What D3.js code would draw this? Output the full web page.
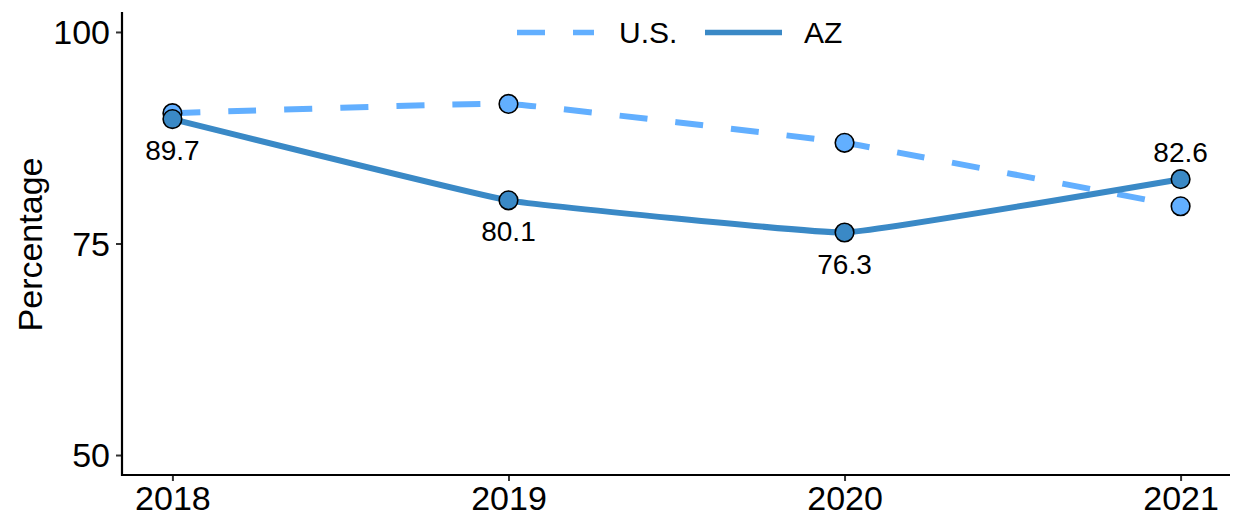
<!DOCTYPE html>
<html>
<head>
<meta charset="utf-8">
<script src="https://cdn.jsdelivr.net/npm/d3@7"></script>
<style>
  html, body { margin: 0; padding: 0; background: #fff; }
  svg { display: block; font-family: "Liberation Sans", Arial, sans-serif; }
</style>
</head>
<body>
<svg id="chart" width="1236" height="517"></svg>
<script>
// ---- data ----
const years = [2018, 2019, 2020, 2021];
const usValues = [90.4, 91.5, 86.9, 79.4];
const azValues = [89.7, 80.1, 76.3, 82.6];
const seriesNames = ["U.S.", "AZ"];
const yTicks = [50, 75, 100];
const yTitle = "Percentage";

(function () {
const colors = { "U.S.": "#62AFFF", "AZ": "#3A89C6" };

const svg = d3.select("#chart");
const mLeft = 122, mRight = 1230, mTop = 12, mBottom = 475;

const x = d3.scaleLinear().domain([2017.85, 2021.147]).range([mLeft, mRight]);
const y = d3.scaleLinear().domain([47.64, 102.36]).range([mBottom, mTop]);

// axes
const yAxis = d3.axisLeft(y).tickValues(yTicks).tickSize(6).tickPadding(6).tickFormat(d3.format("d"));
const xAxis = d3.axisBottom(x).tickValues(years).tickSize(6).tickPadding(5).tickFormat(d3.format("d"));

const gy = svg.append("g").attr("transform", `translate(${mLeft},0)`).call(yAxis);
const gx = svg.append("g").attr("transform", `translate(0,${mBottom})`).call(xAxis);
[gx, gy].forEach(g => {
  g.select(".domain").remove();
  g.selectAll(".tick line").attr("stroke", "#333").attr("stroke-width", 2);
  g.selectAll(".tick text").attr("fill", "#000").style("font-size", "34px").style("font-family", "'Liberation Sans', Arial, sans-serif");
});
gy.selectAll(".tick text").attr("dy", "0.35em");
gx.selectAll(".tick text").attr("dy", "0.72em");

// axis lines
svg.append("line").attr("x1", mLeft).attr("x2", mLeft).attr("y1", mTop).attr("y2", mBottom + 1)
  .attr("stroke", "#000").attr("stroke-width", 2.2);
svg.append("line").attr("x1", mLeft - 1).attr("x2", mRight).attr("y1", mBottom).attr("y2", mBottom)
  .attr("stroke", "#000").attr("stroke-width", 2.2);

// y title
svg.append("text").attr("transform", `translate(42,${(mTop + mBottom) / 2 + 1}) rotate(-90)`)
  .attr("text-anchor", "middle").style("font-size", "34px").attr("fill", "#000").text(yTitle);

// series
const series = [
  { name: "U.S.", values: usValues, dash: "28,28" },
  { name: "AZ", values: azValues, dash: null }
];
const line = d3.line().x(d => x(d.year)).y(d => y(d.v)).curve(d3.curveCardinal.tension(0.75));

series.forEach(s => {
  const pts = years.map((yr, i) => ({ year: yr, v: s.values[i] }));
  svg.append("path").datum(pts).attr("d", line)
    .attr("fill", "none").attr("stroke", colors[s.name]).attr("stroke-width", 6)
    .attr("stroke-dasharray", s.dash).attr("stroke-linecap", "butt");
});
series.forEach(s => {
  const pts = years.map((yr, i) => ({ year: yr, v: s.values[i] }));
  svg.append("g").selectAll("circle").data(pts).join("circle")
    .attr("cx", d => x(d.year)).attr("cy", d => y(d.v)).attr("r", 9.3)
    .attr("fill", colors[s.name]).attr("stroke", "#000").attr("stroke-width", 1.6);
});

// AZ labels
const azPts = years.map((yr, i) => ({ year: yr, v: azValues[i], above: i === years.length - 1 }));
svg.append("g").selectAll("text").data(azPts).join("text")
  .attr("x", d => x(d.year)).attr("y", d => y(d.v) + (d.above ? -17 : 41))
  .attr("text-anchor", "middle").style("font-size", "28px").attr("fill", "#000")
  .text(d => d3.format(".1f")(d.v));

// legend
const legend = [
  { name: "U.S.", x1: 517, x2: 594, tx: 619, dash: "28,28" },
  { name: "AZ", x1: 705, x2: 782, tx: 804, dash: null }
];
legend.forEach(l => {
  svg.append("line").attr("x1", l.x1).attr("x2", l.x2).attr("y1", 32.5).attr("y2", 32.5)
    .attr("stroke", colors[l.name]).attr("stroke-width", 5.5).attr("stroke-dasharray", l.dash);
  svg.append("text").attr("x", l.tx).attr("y", 43).style("font-size", "30px").attr("fill", "#000").text(l.name);
});
})();
</script>
</body>
</html>
